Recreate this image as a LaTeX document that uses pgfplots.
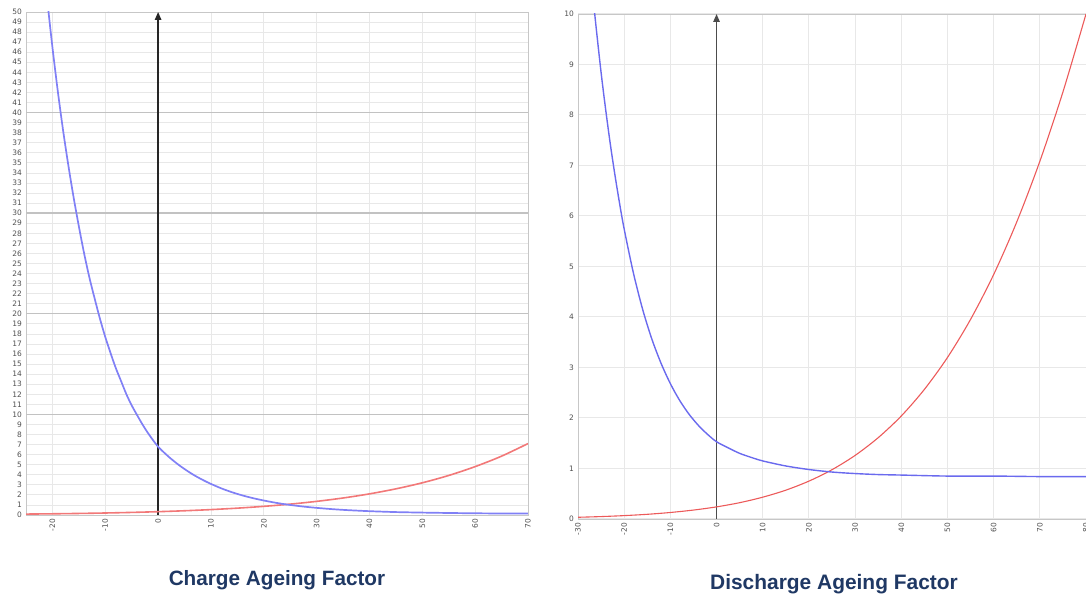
\documentclass[border=0pt]{standalone}
\usepackage{pgfplots}
\pgfplotsset{compat=1.18}
\usepackage{fontspec}
\setmainfont{Liberation Sans}
\newfontfamily\tickfont{DejaVu Sans}
\usetikzlibrary{arrows.meta}
\definecolor{navy}{HTML}{1F3864}
\definecolor{cblue}{HTML}{8080F6}
\definecolor{cred}{HTML}{F27878}
\definecolor{cblueR}{HTML}{6A6AEE}
\definecolor{credR}{HTML}{EC5A5A}
\definecolor{ticktext}{HTML}{505050}
\pgfplotsset{
  commonstyle/.style={
    scale only axis,
    anchor=south west,
    major tick length=0pt,
    minor tick length=0pt,
    /pgf/number format/assume math mode=true,
    axis line style={draw=black!22, line width=0.8bp},
    xmajorgrids, ymajorgrids,
    xticklabel style={rotate=90, anchor=east, inner sep=1bp, text=ticktext,
       font=\tickfont\fontsize{7.5}{8}\selectfont},
    yticklabel style={anchor=east, inner sep=1bp, text=ticktext,
       font=\tickfont\fontsize{7.5}{8}\selectfont},
    xticklabel shift=3bp,
    yticklabel shift=3bp,
    clip=true,
  }
}
\begin{document}
\begin{tikzpicture}
\path[use as bounding box] (0bp,0bp) rectangle (1086bp,594bp);
% ---------------- Left: Charge ----------------
\begin{axis}[commonstyle,
  at={(26bp,79bp)}, width=502bp, height=503bp,
  xmin=-25, xmax=70, ymin=0, ymax=50,
  xtick={-20,-10,...,70},
  ytick={0,1,...,50},
  grid style={draw=black!9, line width=0.8bp},
  extra y ticks={10,20,30,40},
  extra y tick labels={},
  extra y tick style={grid style={draw=black!24, line width=1.4bp}},
]
\addplot[black!85, line width=1.4bp, -{Triangle[width=6.5bp,length=8bp]}] coordinates {(0,0) (0,50)};
\addplot[cred, line width=1.6bp, smooth] coordinates {
(-25,0.091) (-20,0.119) (-15,0.154) (-10,0.199) (-5,0.257) (0,0.330) (5,0.422) (10,0.537)
(15,0.681) (20,0.860) (25,1.081) (30,1.355) (35,1.690) (40,2.10) (45,2.60) (50,3.20)
(55,3.93) (60,4.81) (65,5.85) (70,7.10)};
\addplot[cblue, line width=1.7bp, smooth] coordinates {
(-20.8,50.3) (-20,46.5) (-19,42.2) (-18,38.3) (-17,34.8) (-16,31.6) (-15,28.7) (-14,26.0)
(-13,23.6) (-12,21.5) (-11,19.5) (-10,17.7) (-9,16.1) (-8,14.6) (-7,13.3) (-6,12.0)
(-5,10.9) (-4,9.95) (-3,9.04) (-2,8.21) (-1,7.47) (0,6.79) (1,6.27) (2,5.79) (3,5.35)
(4,4.94) (5,4.57) (6,4.22) (7,3.90) (8,3.61) (9,3.34) (10,3.09) (12,2.64) (14,2.26)
(16,1.94) (18,1.67) (20,1.44) (22,1.24) (24,1.07) (26,0.93) (28,0.81) (30,0.71)
(33,0.58) (36,0.48) (40,0.38) (45,0.29) (50,0.24) (55,0.20) (60,0.17) (65,0.15) (70,0.14)};
\end{axis}
% ---------------- Right: Discharge ----------------
\begin{axis}[commonstyle,
  at={(578bp,75bp)}, width=508bp, height=505bp,
  xmin=-30, xmax=80, ymin=0, ymax=10,
  xtick={-30,-20,...,80},
  ytick={0,1,...,10},
  grid style={draw=black!9, line width=1bp},
]
\addplot[black!70, line width=1.3bp, -{Triangle[width=6.5bp,length=8bp]}] coordinates {(0,0) (0,10)};
\addplot[credR, line width=1.1bp, smooth] coordinates {
(-30,0.034) (-25,0.048) (-20,0.067) (-15,0.093) (-10,0.129) (-5,0.177) (0,0.240)
(5,0.323) (10,0.432) (15,0.571) (20,0.750) (25,0.976) (30,1.259) (35,1.610) (40,2.040)
(45,2.566) (50,3.198) (55,3.952) (60,4.840) (65,5.881) (70,7.082) (75,8.455) (80,10.0)};
\addplot[cblueR, line width=1.4bp, smooth] coordinates {
(-26.4,10.02) (-26,9.67) (-25,8.84) (-24,8.10) (-23,7.42) (-22,6.81) (-21,6.25) (-20,5.74)
(-18,4.87) (-16,4.15) (-14,3.56) (-12,3.08) (-10,2.68) (-8,2.35) (-6,2.08) (-4,1.86)
(-2,1.68) (0,1.53) (2.5,1.41) (5,1.30) (7.5,1.22) (10,1.15) (15,1.05) (20,0.98)
(25,0.93) (30,0.90) (35,0.88) (40,0.87) (50,0.85) (60,0.85) (70,0.84) (80,0.84)};
\end{axis}
% ---------------- Titles ----------------
\node[anchor=base, text=navy, font=\bfseries\fontsize{20.8}{24}\selectfont, inner sep=0pt]
  at (277bp,9bp) {Charge Ageing Factor};
\node[anchor=base, text=navy, font=\bfseries\fontsize{21}{24}\selectfont, inner sep=0pt]
  at (834bp,5bp) {Discharge Ageing Factor};
\end{tikzpicture}
\end{document}
